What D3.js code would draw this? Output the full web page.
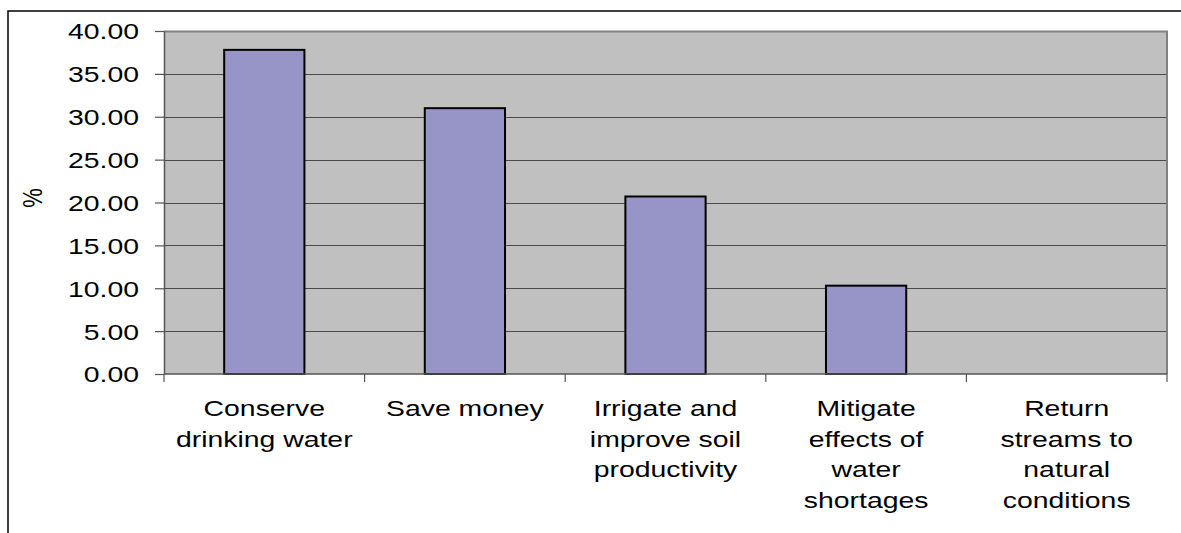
<!DOCTYPE html>
<html>
<head>
<meta charset="utf-8">
<script src="https://d3js.org/d3.v7.min.js"></script>
<style>
  html, body { margin: 0; padding: 0; background: #fff; }
  svg { display: block; }
  text { font-family: "Liberation Sans", Arial, sans-serif; fill: #000; }
</style>
</head>
<body>
<script>
// Reasons for water conservation, share of respondents (%)
const categories = [
  ["Conserve", "drinking water"],
  ["Save money"],
  ["Irrigate and", "improve soil", "productivity"],
  ["Mitigate", "effects of", "water", "shortages"],
  ["Return", "streams to", "natural", "conditions"]
];
const values = [37.8, 31.0, 20.7, 10.3, 0.0];
const yTicks = [0, 5, 10, 15, 20, 25, 30, 35, 40];
const yLabel = "%";

const W = 1181, H = 533;
const plot = { left: 164, right: 1167, top: 31, bottom: 374 };
const stretch = 1.29;   // horizontal stretch of lettering
const fontSize = 22;

const svg = d3.select("body").append("svg")
  .attr("width", W).attr("height", H);

// outer frame (top and left edges)
svg.append("path")
  .attr("d", `M8,533 V11 H${W}`)
  .attr("fill", "none").attr("stroke", "#000").attr("stroke-width", 1.5);

const x = d3.scaleBand()
  .domain(d3.range(categories.length))
  .range([plot.left, plot.right])
  .paddingInner(0.6).paddingOuter(0.3);

const xOuter = d3.scaleBand()
  .domain(d3.range(categories.length))
  .range([plot.left, plot.right]);

const y = d3.scaleLinear().domain([0, 40]).range([plot.bottom, plot.top]);

// plot background
svg.append("rect")
  .attr("x", plot.left).attr("y", plot.top)
  .attr("width", plot.right - plot.left).attr("height", plot.bottom - plot.top)
  .attr("fill", "#c0c0c0");

// gridlines
svg.append("g").selectAll("line").data(yTicks.filter(d => d > 0 && d < 40)).join("line")
  .attr("x1", plot.left).attr("x2", plot.right)
  .attr("y1", d => Math.round(y(d)) + 0.5).attr("y2", d => Math.round(y(d)) + 0.5)
  .attr("stroke", "#4a4a4a").attr("stroke-width", 1.2);

// plot border (top, right)
svg.append("path")
  .attr("d", `M${plot.left},${plot.top + 0.5} H${plot.right} V${plot.bottom}`)
  .attr("fill", "none").attr("stroke", "#808080").attr("stroke-width", 2);

// bars
svg.append("g").selectAll("rect").data(values).join("rect")
  .attr("x", (d, i) => x(i))
  .attr("width", x.bandwidth())
  .attr("y", d => y(d))
  .attr("height", d => y(0) - y(d))
  .attr("fill", "#9794c8")
  .attr("stroke", "#000").attr("stroke-width", 2)
  .style("display", d => d > 0 ? null : "none");

// y axis
const yAxis = d3.axisLeft(y).tickValues(yTicks).tickSize(9).tickSizeOuter(0)
  .tickFormat(d => d3.format(".2f")(d));
const gy = svg.append("g").attr("transform", `translate(${plot.left},0)`).call(yAxis);
gy.select(".domain").attr("stroke", "#555").attr("stroke-width", 1.5);
gy.selectAll(".tick line").attr("stroke", "#555").attr("stroke-width", 1.2);
gy.selectAll(".tick text").remove();
gy.selectAll(".tick").append("g")
  .attr("transform", `translate(-25,0) scale(${stretch},1)`)
  .append("text")
  .attr("text-anchor", "end").attr("dy", "0.36em")
  .style("font-size", fontSize + "px")
  .text(d => d3.format(".2f")(d));

// x axis
const gx = svg.append("g").attr("transform", `translate(0,${plot.bottom})`);
gx.append("line").attr("x1", plot.left).attr("x2", plot.right)
  .attr("stroke", "#555").attr("stroke-width", 1.5);
const bounds = d3.range(categories.length + 1).map(i =>
  i < categories.length ? xOuter(i) : plot.right);
gx.selectAll("line.tk").data(bounds).join("line").attr("class", "tk")
  .attr("x1", d => d).attr("x2", d => d).attr("y1", 0).attr("y2", 8)
  .attr("stroke", "#555").attr("stroke-width", 1.2);

// category labels
const labels = svg.append("g").selectAll("g").data(categories).join("g")
  .attr("transform", (d, i) => `translate(${xOuter(i) + xOuter.bandwidth() / 2},416) scale(${stretch},1)`);
labels.selectAll("text").data(d => d).join("text")
  .attr("text-anchor", "middle")
  .attr("y", (d, j) => j * 30.7)
  .style("font-size", fontSize + "px")
  .text(d => d);

// y axis title
svg.append("g").attr("transform", `translate(42,198) rotate(-90) scale(1,${stretch})`)
  .append("text").attr("text-anchor", "middle")
  .style("font-size", fontSize + "px")
  .text(yLabel);
</script>
</body>
</html>
